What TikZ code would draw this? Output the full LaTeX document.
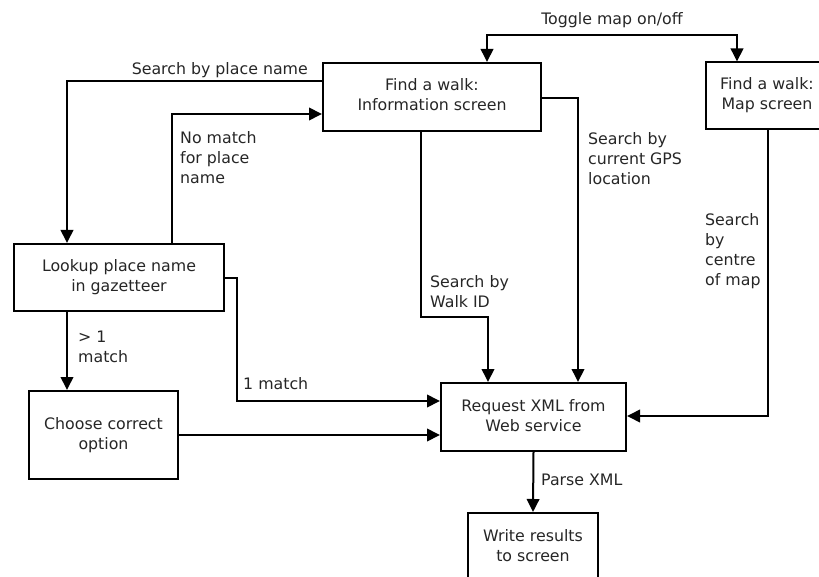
\documentclass[tikz,border=0pt]{standalone}
\usepackage{fontspec}
\setmainfont{DejaVu Sans}
\usetikzlibrary{arrows.meta}
\begin{document}
\begin{tikzpicture}[x=1pt,y=-1pt,
  every node/.style={font=\fontsize{15.8}{20}\selectfont, text=black!85},
  box/.style={draw, line width=2pt, align=center, inner sep=0pt},
  lbl/.style={inner sep=0pt, align=left},
  conn/.style={line width=2pt},
  arr/.style={conn, -{Triangle[length=13pt,width=12.5pt]}},
  arrboth/.style={conn, {Triangle[length=13pt,width=12.5pt]}-{Triangle[length=13pt,width=12.5pt]}}]
\useasboundingbox (0,0) rectangle (819,577);
\clip (0,0) rectangle (819,577);

% screens and processing steps
\node[box, minimum width=218pt, minimum height=68pt] (info) at (432,97)
  {\strut Find a walk:\\\strut Information screen};
\node[box, minimum width=122pt, minimum height=67pt] (map) at (767,96)
  {\strut Find a walk:\\\strut Map screen};
\node[box, minimum width=210pt, minimum height=67pt] (lookup) at (119,277.5)
  {\strut Lookup place name\\\strut in gazetteer};
\node[box, minimum width=149pt, minimum height=88pt] (choose) at (103.5,435)
  {\strut Choose correct\\\strut option};
\node[box, minimum width=185pt, minimum height=68pt] (request) at (533.5,417)
  {\strut Request XML from\\\strut Web service};
\node[box, minimum width=130pt, minimum height=68pt] (write) at (533,547)
  {\strut Write results\\\strut to screen};

% bend points of the connectors
\coordinate (tl) at (487,35);
\coordinate (tr) at (737,35);
\coordinate (sp) at (67,81);
\coordinate (nm) at (172,114);
\coordinate (om) at (237,278);
\coordinate (om2) at (237,401);
\coordinate (w1) at (421,317);
\coordinate (w2) at (488,317);
\coordinate (gps) at (578,98);
\coordinate (mc) at (768,416);

% connectors
\draw[arrboth] (info.north -| tl) |- (tr) -- (map.north -| tr);
\draw[arr] (info.west |- sp) -| (lookup.north -| sp);
\draw[arr] (lookup.north -| nm) |- (info.west |- nm);
\draw[arr] (lookup.south -| sp) -- (choose.north -| sp);
\draw[arr] (lookup.east |- om) -- (om) |- (request.west |- om2);
\draw[arr] (choose.east) -- (choose.east -| request.west);
\draw[arr] (info.south -| w1) -- (w1) -- (w2) -- (request.north -| w2);
\draw[arr] (info.east |- gps) -| (request.north -| gps);
\draw[arr] (map.south -| mc) |- (request.east |- mc);
\draw[arr] (request.south) -- (write.north);

% connector labels
\node[lbl, anchor=north] (ltoggle) at (612,12.5) {Toggle map on/off};
\node[lbl, anchor=north east] (lplace) at (308,62.5) {Search by place name};
\node[lbl, anchor=north west] (lnomatch) at (180,131) {No match\\for place\\name};
\node[lbl, anchor=north west] (lmany) at (78,331) {> 1\\match};
\node[lbl, anchor=north west] (lone) at (243,377) {1 match};
\node[lbl, anchor=north west] (lwalk) at (430,275.5) {Search by\\Walk ID};
\node[lbl, anchor=north west] (lgps) at (588,132.5) {Search by\\current GPS\\location};
\node[lbl, anchor=north west] (lcentre) at (705,213) {Search\\by\\centre\\of map};
\node[lbl, anchor=north west] (lparse) at (541,474) {Parse XML};
\end{tikzpicture}
\end{document}
